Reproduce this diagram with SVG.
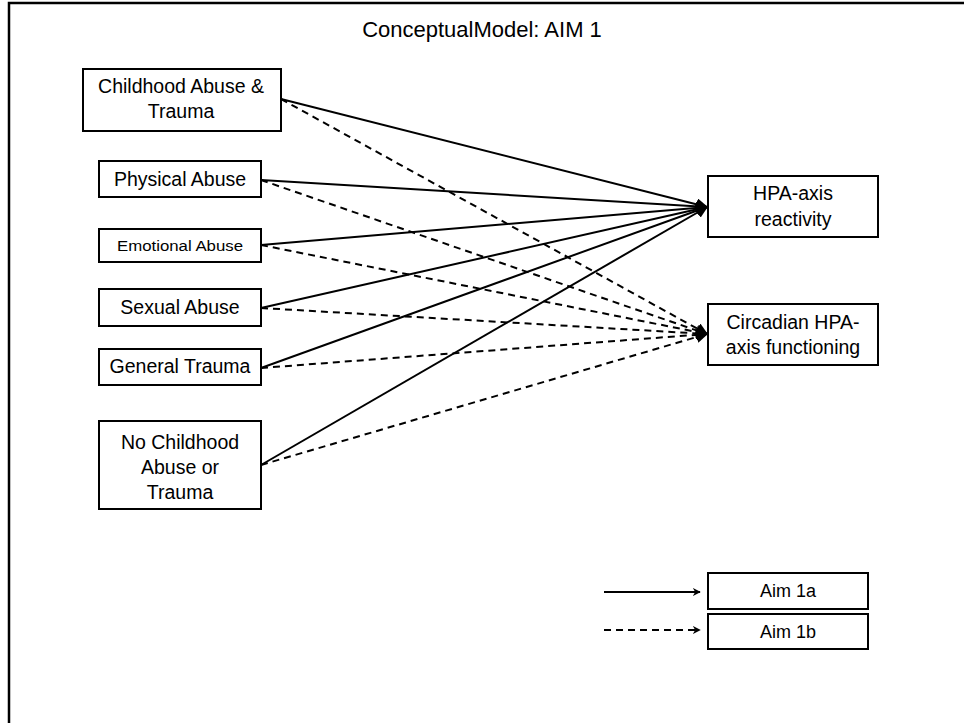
<svg xmlns="http://www.w3.org/2000/svg" width="964" height="723" viewBox="0 0 964 723">
<style>
.box{fill:#fff;stroke:#000;stroke-width:2}
.t{font-family:"Liberation Sans",Arial,sans-serif;font-size:19.5px;fill:#000;text-anchor:middle}
.s{fill:none;stroke:#000;stroke-width:2}
.d{fill:none;stroke:#000;stroke-width:2;stroke-dasharray:7 5}
.frame{fill:none;stroke:#000;stroke-width:2.5}
</style>
<defs>
<marker id="ah" viewBox="0 0 10 10" refX="9" refY="5" markerWidth="6" markerHeight="6" orient="auto" markerUnits="strokeWidth">
<path d="M0,0 L10,5 L0,10 z" fill="#000"/>
</marker>
<marker id="lh" viewBox="0 0 10 10" refX="9" refY="5" markerWidth="4" markerHeight="4" orient="auto" markerUnits="strokeWidth">
<path d="M0,0 L10,5 L0,10 L3,5 z" fill="#000"/>
</marker>
</defs>
<rect width="964" height="723" fill="#fff"/>
<path class="frame" d="M9,723 V3 H964"/>
<text class="t" x="482" y="37" style="font-size:22px">ConceptualModel: AIM 1</text>

<g id="connectors">
<path class="s" marker-end="url(#ah)" d="M281,99 L707,207"/>
<path class="s" marker-end="url(#ah)" d="M261,180 L707,207"/>
<path class="s" marker-end="url(#ah)" d="M261,245 L707,207"/>
<path class="s" marker-end="url(#ah)" d="M261,308 L707,207"/>
<path class="s" marker-end="url(#ah)" d="M261,368 L707,207"/>
<path class="s" marker-end="url(#ah)" d="M261,465 L707,207"/>
<path class="d" marker-end="url(#ah)" d="M281,99 L707,334"/>
<path class="d" marker-end="url(#ah)" d="M261,180 L707,334"/>
<path class="d" marker-end="url(#ah)" d="M261,245 L707,334"/>
<path class="d" marker-end="url(#ah)" d="M261,308 L707,334"/>
<path class="d" marker-end="url(#ah)" d="M261,368 L707,334"/>
<path class="d" marker-end="url(#ah)" d="M261,465 L707,334"/>
<path class="s" marker-end="url(#lh)" d="M604,592 L700,592"/>
<path class="d" marker-end="url(#lh)" d="M604,630 L700,630" stroke-dasharray="5 4"/>
</g>

<g id="childhood">
<rect class="box" x="83" y="69" width="198" height="62"/>
<text class="t" x="181" y="93">Childhood Abuse &amp;</text>
<text class="t" x="181" y="118">Trauma</text>
</g>
<g id="physical">
<rect class="box" x="99" y="161" width="162" height="36"/>
<text class="t" x="180" y="186">Physical Abuse</text>
</g>
<g id="emotional">
<rect class="box" x="99" y="229" width="162" height="33"/>
<text class="t" x="180" y="251" style="font-size:15.5px" textLength="126" lengthAdjust="spacingAndGlyphs">Emotional  Abuse</text>
</g>
<g id="sexual">
<rect class="box" x="99" y="289" width="162" height="37"/>
<text class="t" x="180" y="314">Sexual Abuse</text>
</g>
<g id="general">
<rect class="box" x="99" y="349" width="162" height="36"/>
<text class="t" x="180" y="373">General Trauma</text>
</g>
<g id="nochildhood">
<rect class="box" x="99" y="421" width="162" height="88"/>
<text class="t" x="180" y="449">No Childhood</text>
<text class="t" x="180" y="474">Abuse or</text>
<text class="t" x="180" y="499">Trauma</text>
</g>
<g id="hpa">
<rect class="box" x="708" y="176" width="170" height="61"/>
<text class="t" x="793" y="200">HPA-axis</text>
<text class="t" x="793" y="226">reactivity</text>
</g>
<g id="circadian">
<rect class="box" x="708" y="304" width="170" height="61"/>
<text class="t" x="793" y="329">Circadian HPA-</text>
<text class="t" x="793" y="354">axis functioning</text>
</g>
<g id="aim1a">
<rect class="box" x="708" y="573" width="160" height="36"/>
<text class="t" x="788" y="597" style="font-size:18px">Aim 1a</text>
</g>
<g id="aim1b">
<rect class="box" x="708" y="614" width="160" height="35"/>
<text class="t" x="788" y="638" style="font-size:18px">Aim 1b</text>
</g>
</svg>
